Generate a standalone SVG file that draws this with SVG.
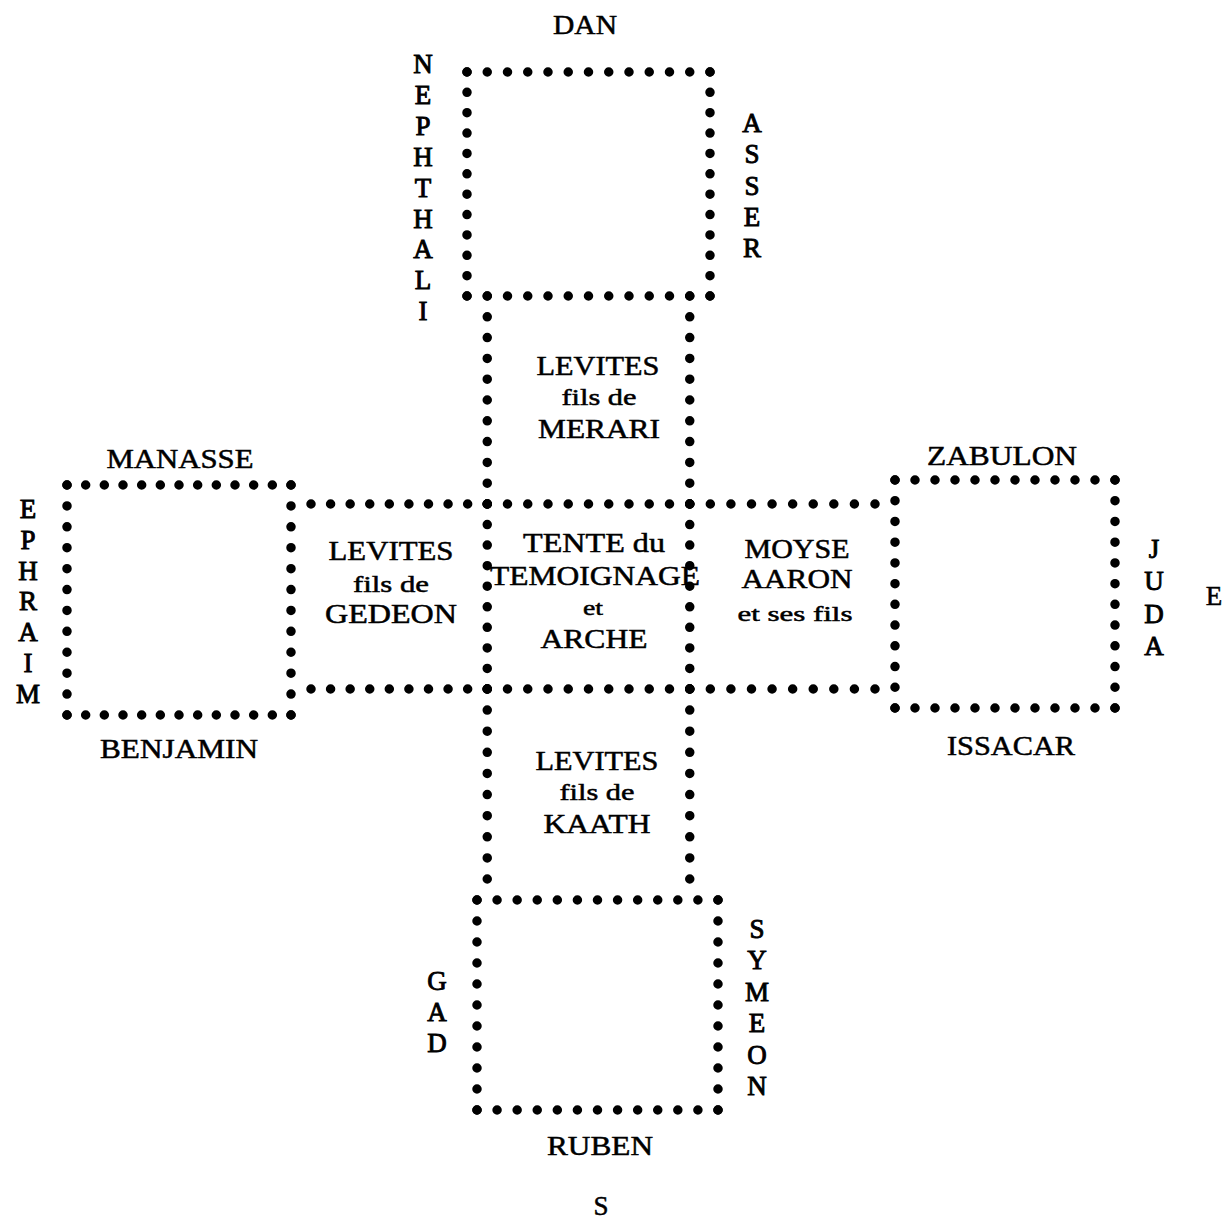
<svg xmlns="http://www.w3.org/2000/svg" width="1227" height="1220" viewBox="0 0 1227 1220">
<style>
.d{stroke:#000;stroke-width:9.5;stroke-linecap:round;fill:none}
text{font-family:"Liberation Serif","Times New Roman",serif;fill:#000;text-anchor:middle;stroke:#000;stroke-width:0.5}
.t{font-size:27px}
.v{font-size:27px;stroke-width:0.9}
.s{font-size:24px}
.xs{font-size:22px}
</style>
<rect width="1227" height="1220" fill="#fff"/>

<g id="dan">
<line class="d" x1="467" y1="72" x2="710" y2="72" stroke-dasharray="0 20.249"/>
<line class="d" x1="467" y1="296" x2="710" y2="296" stroke-dasharray="0 20.249"/>
<line class="d" x1="467" y1="72" x2="467" y2="296" stroke-dasharray="0 20.363"/>
<line class="d" x1="710" y1="72" x2="710" y2="296" stroke-dasharray="0 20.363"/>
<text class="t" x="585" y="34" textLength="64" lengthAdjust="spacingAndGlyphs">DAN</text>
<text class="v"><tspan x="423" y="73">N</tspan><tspan x="423" y="103.9">E</tspan><tspan x="423" y="134.8">P</tspan><tspan x="423" y="165.7">H</tspan><tspan x="423" y="196.6">T</tspan><tspan x="423" y="227.5">H</tspan><tspan x="423" y="258.4">A</tspan><tspan x="423" y="289.3">L</tspan><tspan x="423" y="320.2">I</tspan></text>
<text class="v"><tspan x="752" y="132">A</tspan><tspan x="752" y="163.25">S</tspan><tspan x="752" y="194.5">S</tspan><tspan x="752" y="225.75">E</tspan><tspan x="752" y="257">R</tspan></text>
</g>

<g id="merari">
<line class="d" x1="487.25" y1="296" x2="487.25" y2="504" stroke-dasharray="0 20.799"/>
<line class="d" x1="689.75" y1="296" x2="689.75" y2="504" stroke-dasharray="0 20.799"/>
<text class="t" x="598" y="375" textLength="123" lengthAdjust="spacingAndGlyphs">LEVITES</text>
<text class="s" x="599" y="405" textLength="75" lengthAdjust="spacingAndGlyphs">fils de</text>
<text class="t" x="599" y="438" textLength="122" lengthAdjust="spacingAndGlyphs">MERARI</text>
</g>

<g id="tente">
<line class="d" x1="487.25" y1="504" x2="689.75" y2="504" stroke-dasharray="0 20.249"/>
<line class="d" x1="487.25" y1="689" x2="689.75" y2="689" stroke-dasharray="0 20.249"/>
<line class="d" x1="487.25" y1="504" x2="487.25" y2="689" stroke-dasharray="0 20.554"/>
<line class="d" x1="689.75" y1="504" x2="689.75" y2="689" stroke-dasharray="0 20.554"/>
<text class="t" x="594" y="552" textLength="142" lengthAdjust="spacingAndGlyphs">TENTE du</text>
<text class="t" x="595" y="585" textLength="210" lengthAdjust="spacingAndGlyphs">TEMOIGNAGE</text>
<text class="xs" x="593" y="615" textLength="20" lengthAdjust="spacingAndGlyphs">et</text>
<text class="t" x="594" y="648" textLength="107" lengthAdjust="spacingAndGlyphs">ARCHE</text>
</g>

<g id="gedeon">
<line class="d" x1="311" y1="504" x2="487.25" y2="504" stroke-dasharray="0 19.582"/>
<line class="d" x1="311" y1="689" x2="487.25" y2="689" stroke-dasharray="0 19.582"/>
<text class="t" x="391" y="560" textLength="125" lengthAdjust="spacingAndGlyphs">LEVITES</text>
<text class="s" x="391" y="592" textLength="76" lengthAdjust="spacingAndGlyphs">fils de</text>
<text class="t" x="391" y="623" textLength="132" lengthAdjust="spacingAndGlyphs">GEDEON</text>
</g>

<g id="moyse">
<line class="d" x1="689.75" y1="504" x2="875" y2="504" stroke-dasharray="0 20.582"/>
<line class="d" x1="689.75" y1="689" x2="875" y2="689" stroke-dasharray="0 20.582"/>
<text class="t" x="797" y="558" textLength="105" lengthAdjust="spacingAndGlyphs">MOYSE</text>
<text class="t" x="797" y="588" textLength="111" lengthAdjust="spacingAndGlyphs">AARON</text>
<text class="xs" x="795" y="621" textLength="115" lengthAdjust="spacingAndGlyphs">et ses fils</text>
</g>

<g id="kaath">
<line class="d" x1="487.25" y1="689" x2="487.25" y2="879" stroke-dasharray="0 21.11"/>
<line class="d" x1="689.75" y1="689" x2="689.75" y2="879" stroke-dasharray="0 21.11"/>
<text class="t" x="597" y="770" textLength="123" lengthAdjust="spacingAndGlyphs">LEVITES</text>
<text class="s" x="597" y="800" textLength="75" lengthAdjust="spacingAndGlyphs">fils de</text>
<text class="t" x="597" y="833" textLength="107" lengthAdjust="spacingAndGlyphs">KAATH</text>
</g>

<g id="manasse">
<line class="d" x1="67" y1="485" x2="291" y2="485" stroke-dasharray="0 18.666"/>
<line class="d" x1="67" y1="715" x2="291" y2="715" stroke-dasharray="0 18.666"/>
<line class="d" x1="67" y1="485" x2="67" y2="715" stroke-dasharray="0 20.908"/>
<line class="d" x1="291" y1="485" x2="291" y2="715" stroke-dasharray="0 20.908"/>
<text class="t" x="180" y="468" textLength="147" lengthAdjust="spacingAndGlyphs">MANASSE</text>
<text class="t" x="179" y="758" textLength="158" lengthAdjust="spacingAndGlyphs">BENJAMIN</text>
<text class="v"><tspan x="28" y="518">E</tspan><tspan x="28" y="548.8">P</tspan><tspan x="28" y="579.6">H</tspan><tspan x="28" y="610.4">R</tspan><tspan x="28" y="641.2">A</tspan><tspan x="28" y="672">I</tspan><tspan x="28" y="702.8">M</tspan></text>
</g>

<g id="zabulon">
<line class="d" x1="895" y1="480" x2="1115" y2="480" stroke-dasharray="0 19.999"/>
<line class="d" x1="895" y1="708" x2="1115" y2="708" stroke-dasharray="0 19.999"/>
<line class="d" x1="895" y1="480" x2="895" y2="708" stroke-dasharray="0 20.726"/>
<line class="d" x1="1115" y1="480" x2="1115" y2="708" stroke-dasharray="0 20.726"/>
<text class="t" x="1002" y="465" textLength="150" lengthAdjust="spacingAndGlyphs">ZABULON</text>
<text class="t" x="1011" y="755" textLength="128" lengthAdjust="spacingAndGlyphs">ISSACAR</text>
<text class="v"><tspan x="1154" y="558">J</tspan><tspan x="1154" y="590.3">U</tspan><tspan x="1154" y="622.6">D</tspan><tspan x="1154" y="654.9">A</tspan></text>
</g>

<g id="ruben">
<line class="d" x1="477" y1="900" x2="718" y2="900" stroke-dasharray="0 20.082"/>
<line class="d" x1="477" y1="1110" x2="718" y2="1110" stroke-dasharray="0 20.082"/>
<line class="d" x1="477" y1="900" x2="477" y2="1110" stroke-dasharray="0 20.999"/>
<line class="d" x1="718" y1="900" x2="718" y2="1110" stroke-dasharray="0 20.999"/>
<text class="t" x="600" y="1155" textLength="106" lengthAdjust="spacingAndGlyphs">RUBEN</text>
<text class="v"><tspan x="437" y="990">G</tspan><tspan x="437" y="1021">A</tspan><tspan x="437" y="1052">D</tspan></text>
<text class="v"><tspan x="757" y="938">S</tspan><tspan x="757" y="969.4">Y</tspan><tspan x="757" y="1000.8">M</tspan><tspan x="757" y="1032.2">E</tspan><tspan x="757" y="1063.6">O</tspan><tspan x="757" y="1095">N</tspan></text>
</g>

<g id="compass">
<text class="t" x="1214" y="605">E</text>
<text class="t" x="601" y="1215">S</text>
</g>
</svg>
